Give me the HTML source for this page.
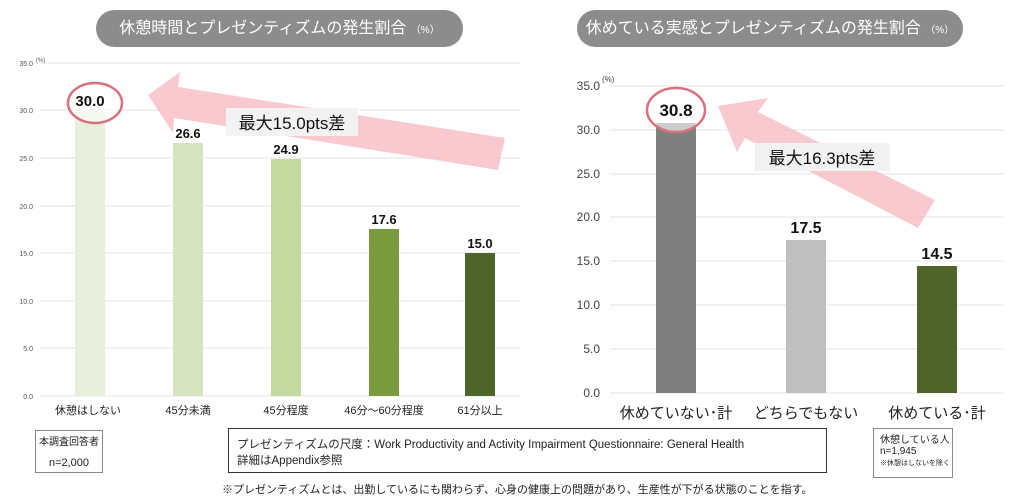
<!DOCTYPE html><html><head><meta charset="utf-8"><style>
body{margin:0;width:1020px;height:500px;background:#fff;font-family:"Liberation Sans","Noto Sans CJK JP",sans-serif;position:relative;overflow:hidden}
.a{position:absolute;white-space:nowrap}
.pill{position:absolute;background:#8c8c8c;color:#fff;border-radius:19px;text-align:center;font-size:16px;line-height:37px;height:37px;top:10px}
.box{position:absolute;border:1px solid #888;background:#fff;font-size:11px;color:#222;white-space:nowrap}
</style></head><body>
<div class="pill" style="left:96px;width:367px">休憩時間とプレゼンティズムの発生割合 <span style="font-size:10px">（%）</span></div>
<div class="pill" style="left:577px;width:386px">休めている実感とプレゼンティズムの発生割合 <span style="font-size:10px">（%）</span></div>
<svg class="a" style="left:0;top:0" width="1020" height="500" font-family="Liberation Sans, Noto Sans CJK JP, sans-serif">
<g stroke="#e6e6e6" stroke-width="1">
<line x1="40" x2="520" y1="63" y2="63"/><line x1="40" x2="520" y1="110" y2="110"/><line x1="40" x2="520" y1="158" y2="158"/><line x1="40" x2="520" y1="206" y2="206"/><line x1="40" x2="520" y1="253" y2="253"/><line x1="40" x2="520" y1="301" y2="301"/><line x1="40" x2="520" y1="348" y2="348"/><line x1="40" x2="520" y1="396" y2="396"/>
<line x1="610" x2="1003" y1="86" y2="86"/><line x1="610" x2="1003" y1="130" y2="130"/><line x1="610" x2="1003" y1="174" y2="174"/><line x1="610" x2="1003" y1="217" y2="217"/><line x1="610" x2="1003" y1="261" y2="261"/><line x1="610" x2="1003" y1="305" y2="305"/><line x1="610" x2="1003" y1="349" y2="349"/><line x1="610" x2="1003" y1="393" y2="393"/>
</g>
<g font-size="7" fill="#555" text-anchor="end">
<text x="33" y="66">35.0</text><text x="33" y="113">30.0</text><text x="33" y="161">25.0</text><text x="33" y="209">20.0</text><text x="33" y="256">15.0</text><text x="33" y="304">10.0</text><text x="33" y="351">5.0</text><text x="33" y="399">0.0</text>
</g>
<text x="36" y="62" font-size="6" fill="#555">(%)</text>
<g font-size="12" fill="#444" text-anchor="end">
<text x="600" y="90">35.0</text><text x="600" y="134">30.0</text><text x="600" y="178">25.0</text><text x="600" y="221">20.0</text><text x="600" y="265">15.0</text><text x="600" y="309">10.0</text><text x="600" y="353">5.0</text><text x="600" y="397">0.0</text>
</g>
<text x="602" y="82" font-size="8" fill="#444">(%)</text>
<rect x="75" y="110" width="30" height="286" fill="#e8efdc"/>
<rect x="173" y="143" width="30" height="253" fill="#d6e4bf"/>
<rect x="271" y="159" width="30" height="237" fill="#c3d9a0"/>
<rect x="369" y="229" width="30" height="167" fill="#7a9a3c"/>
<rect x="465" y="253" width="30" height="143" fill="#4e6428"/>
<rect x="656" y="123" width="40" height="270" fill="#7f7f7f"/>
<rect x="786" y="240" width="40" height="153" fill="#bfbfbf"/>
<rect x="917" y="266" width="40" height="127" fill="#4e6428"/>
<polygon points="148,95 180,72 178,87 505,138 498,170 174,118 173,133" fill="#f5b8c0" opacity="0.75"/>
<polygon points="718,106 768,98 758,112 935,200 918,228 745,138 737,152" fill="#f5b8c0" opacity="0.75"/>
<rect x="226" y="108" width="132" height="28" fill="#f2f2f2"/>
<text x="292" y="129" font-size="17" text-anchor="middle" fill="#111">最大15.0pts差</text>
<rect x="755" y="143" width="135" height="28" fill="#f2f2f2"/>
<text x="822" y="164" font-size="17" text-anchor="middle" fill="#111">最大16.3pts差</text>
<ellipse cx="95" cy="103" rx="27" ry="20" fill="#fff" fill-opacity="0.6" stroke="#d9707e" stroke-width="2.5"/>
<ellipse cx="676" cy="110" rx="29" ry="22" fill="#fff" fill-opacity="0.6" stroke="#d9707e" stroke-width="2.5"/>
<g font-weight="bold" text-anchor="middle" fill="#111">
<text x="90" y="106" font-size="15">30.0</text><text x="188" y="138" font-size="13">26.6</text><text x="286" y="154" font-size="13">24.9</text><text x="384" y="224" font-size="13">17.6</text><text x="480" y="248" font-size="13">15.0</text>
<text x="676" y="116" font-size="17">30.8</text><text x="806" y="233" font-size="16">17.5</text><text x="937" y="259" font-size="16">14.5</text>
</g>
<g font-size="11" fill="#222" text-anchor="middle">
<text x="88" y="414">休憩はしない</text><text x="188" y="414">45分未満</text><text x="286" y="414">45分程度</text><text x="384" y="414">46分～60分程度</text><text x="480" y="414">61分以上</text>
</g>
<g font-size="15" fill="#222" text-anchor="middle">
<text x="676" y="418">休めていない･計</text><text x="806" y="418">どちらでもない</text><text x="937" y="418">休めている･計</text>
</g>
</svg>
<div class="box" style="left:35px;top:430px;width:68px;height:43px;text-align:center;line-height:20px;padding-top:2px;box-sizing:border-box;font-size:10px">本調査回答者<br><span style="font-size:11px">n=2,000</span></div>
<div class="box" style="left:228px;top:428px;width:599px;height:45px;box-sizing:border-box;border:1.5px solid #333;padding:8px 0 0 8px;line-height:16px;font-size:11.5px">プレゼンティズムの尺度：Work Productivity and Activity Impairment Questionnaire: General Health<br>詳細はAppendix参照</div>
<div class="box" style="left:873px;top:428px;width:80px;height:50px;box-sizing:border-box;padding:6px 0 0 6px;line-height:11px;font-size:10px">休憩している人<br>n=1,945<br><span style="font-size:7px">※休憩はしないを除く</span></div>
<div class="a" style="left:222px;top:481px;font-size:11px;color:#222">※プレゼンティズムとは、出勤しているにも関わらず、心身の健康上の問題があり、生産性が下がる状態のことを指す。</div>
</body></html>
